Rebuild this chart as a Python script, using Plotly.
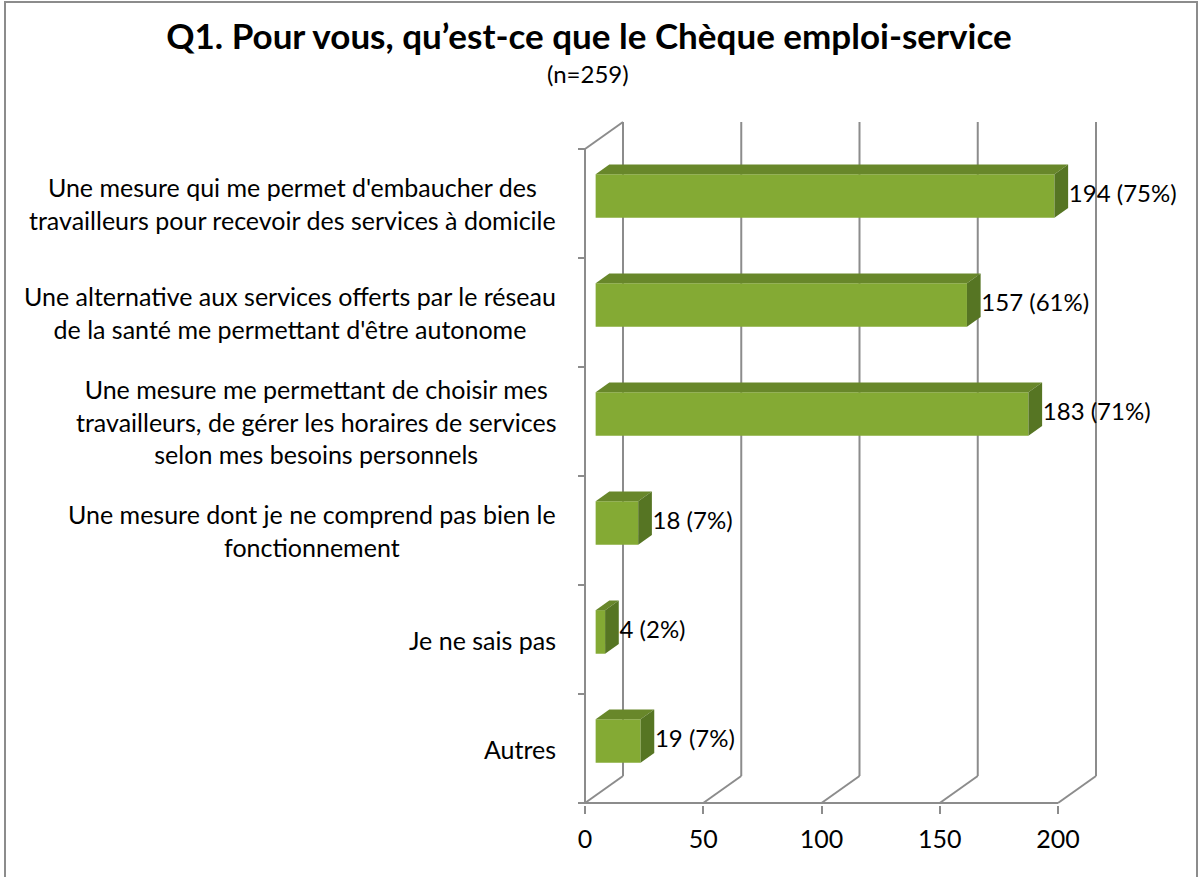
import plotly.graph_objects as go

# ---------------- data ----------------
categories = [
    "Une mesure qui me permet d'embaucher des<br>travailleurs pour recevoir des services à domicile",
    "Une alternative aux services offerts par le réseau<br>de la santé me permettant d'être autonome",
    "Une mesure me permettant de choisir mes<br>travailleurs, de gérer les horaires de services<br>selon mes besoins personnels",
    "Une mesure dont je ne comprend pas bien le<br>fonctionnement",
    "Je ne sais pas",
    "Autres",
]
counts = [194, 157, 183, 18, 4, 19]
percents = [75, 61, 71, 7, 2, 7]
x_ticks = [0, 50, 100, 150, 200]
n_total = 259
title_text = "Q1. Pour vous, qu\u2019est-ce que le Chèque emploi-service"

# ---------------- layout geometry (pixels) ----------------
W, H = 1199, 877
PX_UNIT = 2.365          # pixels per value unit
BAND_PX = 109.0          # pixels per category band
X0_PX = 585.0            # pixel of value 0 on front plane
Y0_PX = 803.0            # pixel of front floor
PLOT_L, PLOT_R = 560.0, 1110.0
PLOT_T, PLOT_B = 100.0, 805.0

DX = 38.0 / PX_UNIT      # depth offset (value units)
DY = 27.0 / BAND_PX      # depth offset (band units)
FRONT_D, BACK_D = 0.28, 0.64
HALF_H = 0.2

GRID_COL = "#8c8c8c"
FRONT_COL = "#84aa34"
TOP_COL = "#68872a"
SIDE_COL = "#567523"
FONT = "Lato"

ncat = len(categories)
xr = [(PLOT_L - X0_PX) / PX_UNIT, (PLOT_R - X0_PX) / PX_UNIT]
yr = [(Y0_PX - PLOT_B) / BAND_PX, (Y0_PX - PLOT_T) / BAND_PX]

def px_to_paper_x(px):
    return (px - PLOT_L) / (PLOT_R - PLOT_L)

def px_to_paper_y(py):
    return (PLOT_B - py) / (PLOT_B - PLOT_T)

yc = [ncat - 1 - i + 0.5 for i in range(ncat)]
face_y = [c + FRONT_D * DY for c in yc]
xmax = max(x_ticks)

fig = go.Figure()

# front faces of bars
fig.add_trace(go.Bar(
    y=face_y, x=counts, base=[FRONT_D * DX] * ncat, orientation="h",
    width=2 * HALF_H, marker=dict(color=FRONT_COL, line=dict(width=0)),
    hoverinfo="skip", showlegend=False,
))

dd_x = (BACK_D - FRONT_D) * DX
dd_y = (BACK_D - FRONT_D) * DY
for v, fy in zip(counts, face_y):
    x0 = FRONT_D * DX
    x1 = x0 + v
    yt, yb = fy + HALF_H, fy - HALF_H
    # top face
    fig.add_trace(go.Scatter(
        x=[x0, x1, x1 + dd_x, x0 + dd_x, x0],
        y=[yt, yt, yt + dd_y, yt + dd_y, yt],
        fill="toself", fillcolor=TOP_COL, mode="lines",
        line=dict(width=0, color=TOP_COL), hoverinfo="skip", showlegend=False))
    # side face
    fig.add_trace(go.Scatter(
        x=[x1, x1, x1 + dd_x, x1 + dd_x, x1],
        y=[yb, yt, yt + dd_y, yb + dd_y, yb],
        fill="toself", fillcolor=SIDE_COL, mode="lines",
        line=dict(width=0, color=SIDE_COL), hoverinfo="skip", showlegend=False))

# data labels
fig.add_trace(go.Scatter(
    x=[v + FRONT_D * DX + dd_x + 0.3 for v in counts], y=face_y,
    mode="text", text=[f"{c} ({p}%)" for c, p in zip(counts, percents)],
    textposition="middle right",
    textfont=dict(family=FONT, size=24, color="#000000"),
    cliponaxis=False, hoverinfo="skip", showlegend=False))

# walls / gridlines as shapes below traces
shapes = []
def seg(xa, ya, xb, yb_):
    shapes.append(dict(type="line", xref="x", yref="y", x0=xa, y0=ya, x1=xb, y1=yb_,
                       line=dict(color=GRID_COL, width=2), layer="below"))

for v in x_ticks:
    seg(v + DX, DY, v + DX, ncat + DY)      # back wall verticals
    seg(v, 0, v + DX, DY)                   # floor diagonals
seg(0, 0, 0, ncat)                          # front left edge
seg(0, ncat, DX, ncat + DY)                 # top-left diagonal
seg(0, 0, xmax, 0)                          # front floor
for k in range(ncat + 1):
    seg(-7.0 / PX_UNIT, k, 0, k)            # category ticks

# chart border
shapes.append(dict(type="rect", xref="paper", yref="paper",
                   x0=px_to_paper_x(5), x1=px_to_paper_x(1197),
                   y0=px_to_paper_y(880), y1=px_to_paper_y(2),
                   line=dict(color="#8c8c8c", width=2), fillcolor="rgba(0,0,0,0)",
                   layer="below"))

annotations = []
for c, y in zip(categories, yc):
    annotations.append(dict(
        x=px_to_paper_x(558), xref="paper", y=y, yref="y",
        text=c, showarrow=False, xanchor="right", yanchor="middle", align="center",
        font=dict(family=FONT, size=25, color="#000000")))
annotations.append(dict(
    x=px_to_paper_x(588), xref="paper", y=px_to_paper_y(73), yref="paper",
    text=f"(n={n_total})", showarrow=False, xanchor="center", yanchor="middle",
    font=dict(family=FONT, size=24, color="#000000")))

fig.update_layout(
    width=W, height=H,
    paper_bgcolor="white", plot_bgcolor="rgba(0,0,0,0)",
    margin=dict(l=PLOT_L, r=W - PLOT_R, t=PLOT_T, b=H - PLOT_B, pad=0),
    title=dict(text=f"<b>{title_text}</b>", x=589 / W, xanchor="center",
               y=1 - 37 / H, yanchor="middle",
               font=dict(family=FONT, size=35, color="#000000")),
    xaxis=dict(range=xr, tickvals=x_ticks, ticktext=[str(t) for t in x_ticks],
               showgrid=False, zeroline=False, showline=False,
               ticks="outside", ticklen=8, tickwidth=2, tickcolor=GRID_COL,
               ticklabelstandoff=4,
               tickfont=dict(family=FONT, size=25, color="#000000")),
    yaxis=dict(range=yr, visible=False, showgrid=False, zeroline=False),
    shapes=shapes, annotations=annotations, showlegend=False,
)

fig.write_html("out.html", config={"displayModeBar": False},
               post_script="document.body.style.margin='0';document.body.style.overflow='hidden';")
